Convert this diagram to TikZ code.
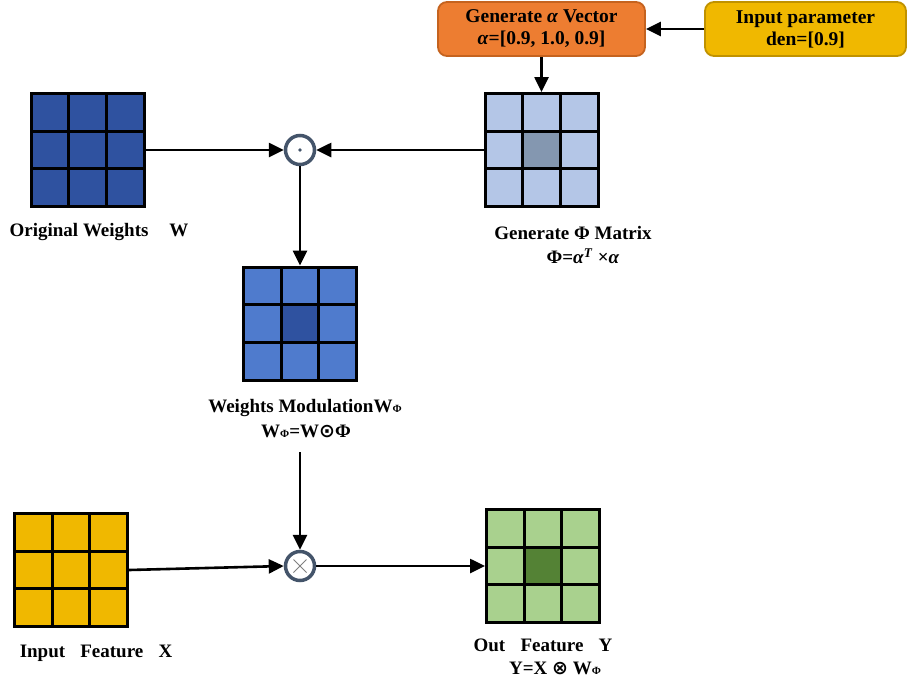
\documentclass[tikz,border=0pt]{standalone}
\usepackage{fontspec}
\setmainfont{Liberation Serif}
\newfontfamily\symf{DejaVu Sans}
\usetikzlibrary{arrows.meta}
\definecolor{wdark}{HTML}{2F52A0}
\definecolor{wmod}{HTML}{4F7BCD}
\definecolor{philight}{HTML}{B4C6E7}
\definecolor{phidark}{HTML}{8497B0}
\definecolor{xyellow}{HTML}{F0B800}
\definecolor{ygreen}{HTML}{A9D18E}
\definecolor{ydark}{HTML}{548235}
\definecolor{orangefill}{HTML}{ED7D31}
\definecolor{orangedraw}{HTML}{C5631F}
\definecolor{goldfill}{HTML}{F0B800}
\definecolor{golddraw}{HTML}{C09200}
\definecolor{ringcol}{HTML}{44546A}
\newcommand{\gs}{18.83}
\newcommand{\phisub}{{\fontsize{11}{11}\selectfont Φ}}
\tikzset{
  x=1pt, y=-1pt,
  gridbox/.style 2 args={draw=black, line width=3pt, minimum size=113pt, inner sep=0pt,
    fill=#1, path picture={
      \fill[#2] ([shift={(-\gs,-\gs)}]path picture bounding box.center) rectangle ([shift={(\gs,\gs)}]path picture bounding box.center);
      \draw[line width=3pt] ([shift={(-\gs,-60)}]path picture bounding box.center) -- ([shift={(-\gs,60)}]path picture bounding box.center);
      \draw[line width=3pt] ([shift={(\gs,-60)}]path picture bounding box.center) -- ([shift={(\gs,60)}]path picture bounding box.center);
      \draw[line width=3pt] ([shift={(-60,-\gs)}]path picture bounding box.center) -- ([shift={(60,-\gs)}]path picture bounding box.center);
      \draw[line width=3pt] ([shift={(-60,\gs)}]path picture bounding box.center) -- ([shift={(60,\gs)}]path picture bounding box.center);
    }},
  ring/.style={circle, draw=ringcol, line width=3.5pt, fill=white, minimum size=29pt, inner sep=0pt},
  topbox/.style={rounded corners=9pt, line width=1.8pt, minimum height=54pt, align=center,
    font=\fontsize{19.5}{22}\selectfont\bfseries, inner sep=0pt},
  lbl/.style={font=\fontsize{19}{22}\selectfont\bfseries, inner sep=0pt, anchor=center},
  arr/.style={line width=2.6pt, -{Triangle[length=15pt,width=14pt]}}
}
\begin{document}
\begin{tikzpicture}
\useasboundingbox (0,0) rectangle (907,683);
% top boxes
\node[topbox, fill=orangefill, draw=orangedraw, minimum width=207pt] (gen) at (541.5,29) {Generate \textit{α} Vector\\\textit{α}=[0.9, 1.0, 0.9]};
\node[topbox, fill=goldfill, draw=golddraw, minimum width=201pt] (inp) at (805.5,29) {Input parameter\\den=[0.9]};
% grids
\node[gridbox={wdark}{wdark}] (W) at (87.5,150) {};
\node[gridbox={philight}{phidark}] (P) at (541.5,150) {};
\node[gridbox={wmod}{wdark}] (M) at (300,323.5) {};
\node[gridbox={xyellow}{xyellow}] (X) at (71,570) {};
\node[gridbox={ygreen}{ydark}] (Y) at (543,566) {};
% operators
\node[ring] (od) at (300,150) {};
\fill[ringcol] (od.center) circle (1.8pt);
\node[ring] (ot) at (300,566) {};
\draw[gray, line width=0.9pt] ([shift={(-6.5,-6.5)}]ot.center) -- ([shift={(6.5,6.5)}]ot.center) ([shift={(-6.5,6.5)}]ot.center) -- ([shift={(6.5,-6.5)}]ot.center);
% labels
\node[lbl] (lW) at (99,232) {Original Weights\hspace{1.1em}W};
\node[lbl] (lP1) at (573,233) {Generate Φ Matrix};
\node[lbl] (lP2) at (583,256) {Φ=\textit{α}\textsuperscript{\textit{T}} ×\textit{α}};
\node[lbl] (lM1) at (305,408) {Weights ModulationW\phisub};
\node[lbl] (lM2) at (306,431) {W\phisub=W{\symf\fontsize{19}{19}\selectfont ⊙}Φ};
\node[lbl] (lX) at (96,653) {Input\hspace{0.8em}Feature\hspace{0.8em}X};
\node[lbl] (lY1) at (543,645) {Out\hspace{0.8em}Feature\hspace{0.8em}Y};
\node[lbl] (lY2) at (555,668) {Y=X {\symf\fontsize{19}{19}\selectfont ⊗} W\phisub};
\coordinate (mout) at (300,452);
% connectors
\draw[arr] (inp.west) -- (gen.east);
\draw[arr] (gen.south) -- (P.north);
\draw[arr] (W.east) -- (od.west);
\draw[arr] (P.west) -- (od.east);
\draw[arr] (od.south) -- (M.north);
\draw[arr] (mout) -- (ot.north);
\draw[arr] (X.east) -- (ot.west);
\draw[arr] (ot.east) -- (Y.west);
\end{tikzpicture}
\end{document}
